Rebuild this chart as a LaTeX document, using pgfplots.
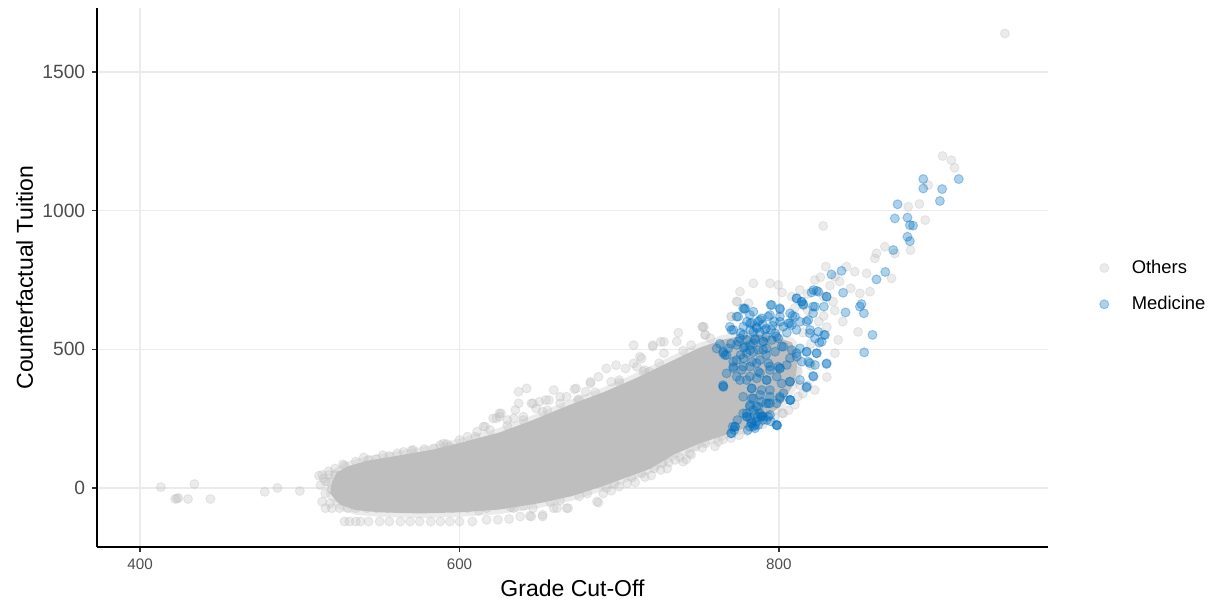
\documentclass[border=0pt]{standalone}
\usepackage{pgfplots}
\pgfplotsset{compat=1.18}
\usepackage{fontspec}
\setmainfont{Liberation Sans}

\definecolor{othergray}{RGB}{190,190,190}
\definecolor{medblue}{RGB}{0,112,192}
\definecolor{gridgray}{RGB}{235,235,235}
\definecolor{ticklab}{RGB}{77,77,77}
\definecolor{tickline}{RGB}{51,51,51}

% Dense body of the "Others" cloud (outline of the region where points overlap fully)
\pgfplotstableread{
x y
520 20
523 55
530 78
542 98
563 118
583 138
600 162
625 200
646 245
667 295
690 345
709 392
730 450
750 505
765 535
780 552
795 550
808 525
812 470
810 380
800 290
785 228
770 198
750 160
735 122
719 68
700 28
688 3
670 -30
650 -55
625 -78
600 -88
575 -92
550 -88
535 -80
525 -60
519 -20
}\corebody

% Individual "Others" programmes around the dense body
\pgfplotstableread{
x y
413 3
434 14
424 -36
422 -40
423 -38
430 -40
444 -40
478 -14
486 0
500 -11
514 47
518 47
522 47
518 22
516 -73
524 -36
516 23
525 -31
512 44
520 -5
518 60
515 35
513 10
516 -20
514 -50
519 -55
522 70
527 85
528 80
535 95
540 110
543 101
548 104
552 118
556 115
561 125
565 130
571 137
578 140
584 143
588 155
592 158
594 149
600 173
605 185
611 203
615 221
616 221
619 209
621 251
623 251
625 257
625 269
626 269
630 245
634 251
635 281
637 305
637 347
640 257
642 359
645 305
646 305
648 287
650 311
652 275
654 317
656 317
659 353
663 329
663 305
667 329
672 356
673 359
674 317
679 347
682 377
682 383
687 401
692 431
695 383
698 443
700 389
704 431
709 449
709 515
711 437
713 473
714 467
716 425
719 419
721 510
721 515
726 527
728 486
728 527
736 528
737 560
745 515
752 581
753 581
754 552
774 672
781 666
770 618
570 135
590 160
610 185
630 225
640 245
655 280
675 320
685 345
700 380
715 420
725 450
740 495
757 540
785 585
800 575
520 -73
525 -73
530 -73
535 -73
542 -73
548 -73
555 -73
559 -73
566 -73
573 -73
580 -73
588 -73
596 -73
605 -73
617 -73
634 -73
646 -73
659 -73
667 -73
528 -121
531 -121
535 -121
538 -121
543 -121
550 -121
556 -121
563 -121
569 -121
575 -121
582 -121
588 -121
594 -121
600 -121
608 -121
617 -115
624 -115
631 -112
638 -103
645 -103
652 -103
652 -97
644 -101
661 -73
668 -73
687 -53
686 -49
700 5
705 17
716 39
726 65
727 89
735 101
742 103
748 149
754 161
762 167
757 191
690 -20
695 -10
710 20
720 45
730 70
740 95
745 120
760 150
770 180
780 205
790 230
802 270
810 300
815 340
818 370
812 330
806 280
797 255
775 190
765 175
752 145
744 125
738 110
731 92
722 70
714 52
708 38
697 15
692 0
680 -20
675 -30
663 -45
657 -52
640 -65
632 -70
612 -82
902.5 1197
908 1182
910 1155
893.5 1092
888 1024
881 1014
891.6 966
827.7 945
882.4 858
866.3 870
861.1 846
860.1 828
872.6 846
870.5 756
854.9 774
857 708
842.3 798
847.5 780
829.4 798
835.1 762
822.5 750
813.1 714
784 738
794.4 738
799.6 732
775.6 708
773.5 672
849.6 563
835.1 486
822.5 353
813.1 371
837.1 534
850.7 702
833.9 672
802.7 269
752.3 581
753.7 552
770.3 618
815 560
820 520
825 600
830 580
818 640
828 620
835 640
810 650
840 600
812 420
820 440
830 400
805 470
826 760
832 730
838 745
845 720
828 690
818 700
808 690
802 705
941.5 1639
}\others

% Medicine programmes
\pgfplotstableread{
x y
890.4 1114
890.4 1080
912.6 1114
902.2 1078
900.8 1035
874.3 1023
872.6 972
880.5 975
882 948
884 946
880.5 906
882 890
871.6 858
866.6 779
861.1 752
832.9 770
839.2 783
840.2 704
851.7 663
850.7 654
853.2 630
841.7 633
829.8 690
823.6 711
820.4 705
811 684
814.2 672
815.2 663
821.4 654
821.4 630
828.2 654
858.6 552
853.4 489
829.8 447
821.4 404
817.3 362
807.3 317
806.9 383
799 225
794.8 660
800.6 648
778.3 645
774.5 618
770.3 570
766.2 479
761 503
765.2 365
770 197
784 221
777.6 269
786 293
794.4 305
782.9 359
794.4 353
800.6 329
817.3 491
823.6 486
819.4 450
825.3 524
828.2 552
819.4 558
811 570
806.9 594
817.3 600
808.5 621
800.6 618
793.3 618
788.1 606
781.8 624
784 563
777.6 552
774.5 528
784 522
790.1 528
798.5 546
801.7 510
790.1 498
779.8 486
771.4 456
777.6 438
786 450
794.4 438
800.6 432
806.9 468
811 486
788.1 414
781.8 402
775.6 389
792.3 389
801.7 377
782.9 323
789.2 311
777.6 329
781.8 293
787 257
781.8 251
785 227
781.8 221
789.2 261
793.3 257
772.5 221
779.8 257
772 209
774 245
771 221
780 257
784 281
792 305
798.5 227
807 317
780.5 209
789 257
777.6 648
773.5 618
769.3 581
765.1 486
767.2 413
771.4 437
781.8 497
765 371
811.1 683.7
814.3 671.7
821.6 713.8
824.7 707.7
829.9 689.7
822.6 653.7
778.8 647.7
784.0 635.6
795.5 659.7
800.7 644.1
807.0 629.6
815.3 659.7
818.4 605.6
810.1 617.6
794.4 623.6
789.2 611.6
800.7 599.6
805.9 593.6
813.2 599.6
771.5 569.6
777.7 581.6
781.9 593.6
786.1 575.6
791.3 569.6
797.6 557.5
802.8 581.6
808.0 587.6
819.5 569.6
824.7 563.5
828.9 551.5
822.6 539.5
826.8 527.5
775.6 539.5
779.8 533.5
785.0 533.5
790.2 527.5
795.5 533.5
799.6 539.5
768.3 503.5
773.6 515.5
778.8 509.5
781.9 515.5
787.1 497.5
792.3 503.5
797.6 491.5
802.8 509.5
808.0 497.5
813.2 503.5
817.4 491.5
823.6 485.5
767.3 479.4
765.2 491.5
773.6 461.4
777.7 467.4
783.0 455.4
788.2 461.4
793.4 449.4
799.6 437.4
804.9 443.4
811.1 473.4
814.3 455.4
818.4 455.4
822.6 443.4
829.9 449.4
771.5 431.4
776.7 425.4
781.9 437.4
787.1 419.4
794.4 425.4
800.7 431.4
773.6 401.3
779.8 389.3
786.1 395.3
792.3 389.3
798.6 401.3
806.9 383.3
813.2 389.3
821.6 401.3
817.4 365.3
783.0 359.3
789.2 353.3
765.2 365.3
784.0 323.2
788.2 335.3
794.4 329.2
800.7 323.2
802.8 341.3
806.9 317.2
781.9 299.2
787.1 293.2
793.4 305.2
798.6 305.2
779.8 269.2
785.0 263.2
790.2 257.1
794.4 263.2
783.0 233.1
787.1 227.1
792.3 245.1
772.5 221.1
770.4 197.1
785.0 215.1
798.6 227.1
786 580
790 590
795 570
788 560
792 545
783 595
797 600
785 540
780 600
792 575
787 600
796 585
805 560
786 240
790 245
783 235
788 270
795 240
776 560
782 570
778 505
784 490
792 480
776 480
770 520
763 520
}\medicine

\begin{document}
\begin{tikzpicture}
\begin{axis}[
  name=ax,
  scale only axis,
  width=475.5pt, height=269.5pt,
  xmin=373, xmax=968.5, ymin=-213, ymax=1731,
  axis x line=bottom, axis y line=left,
  axis line style={-, black, line width=0.8pt},
  xtick={400,600,800}, xticklabels={400,600,800},
  ytick={0,500,1000,1500}, yticklabels={0,500,1000,1500},
  tick align=outside, major tick length=2.4pt,
  tick style={tickline, line width=0.7pt},
  grid=major, grid style={gridgray, line width=0.75pt},
  xticklabel style={font=\fontsize{7.6}{9}\selectfont, text=ticklab},
  yticklabel style={font=\fontsize{9.6}{11}\selectfont, text=ticklab},
  xlabel={Grade Cut-Off}, ylabel={Counterfactual Tuition},
  label style={font=\fontsize{11.5}{13}\selectfont, text=black},
  xlabel style={at={(axis description cs:0.5,-0.092)}, anchor=base},
  ylabel style={at={(axis description cs:-0.0673,0.5)}, anchor=base},
  legend style={at={(axis description cs:1.054,0.484)}, anchor=west,
    draw=none, fill=none, inner sep=0pt, column sep=9.5pt,
    font=\fontsize{9.2}{11}\selectfont, row sep=6pt},
  legend cell align=left,
  clip=true,
]
% soft fringe and solid body of the overlapping grey points
\addplot[forget plot, draw=othergray, line width=4.5pt, opacity=0.3, line join=round]
  table {\corebody} -- cycle;
\addplot[forget plot, fill=othergray, draw=none]
  table {\corebody} -- cycle;

\addplot[only marks, mark=*, mark size=2.25pt,
  mark options={fill=othergray, draw=othergray, opacity=0.3, line width=0.5pt}]
  table {\others};
\addlegendentry{Others}

\addplot[only marks, mark=*, mark size=2.25pt,
  mark options={fill=medblue, draw=medblue, opacity=0.32, line width=0.5pt}]
  table {\medicine};
\addlegendentry{Medicine}
\end{axis}
\path (ax.south west) ++(-48.5pt,-29pt) coordinate (bbsw);
\path (ax.north east) ++(87pt,4pt) coordinate (bbne);
\path (bbsw) rectangle (bbne);
\end{tikzpicture}
\end{document}
